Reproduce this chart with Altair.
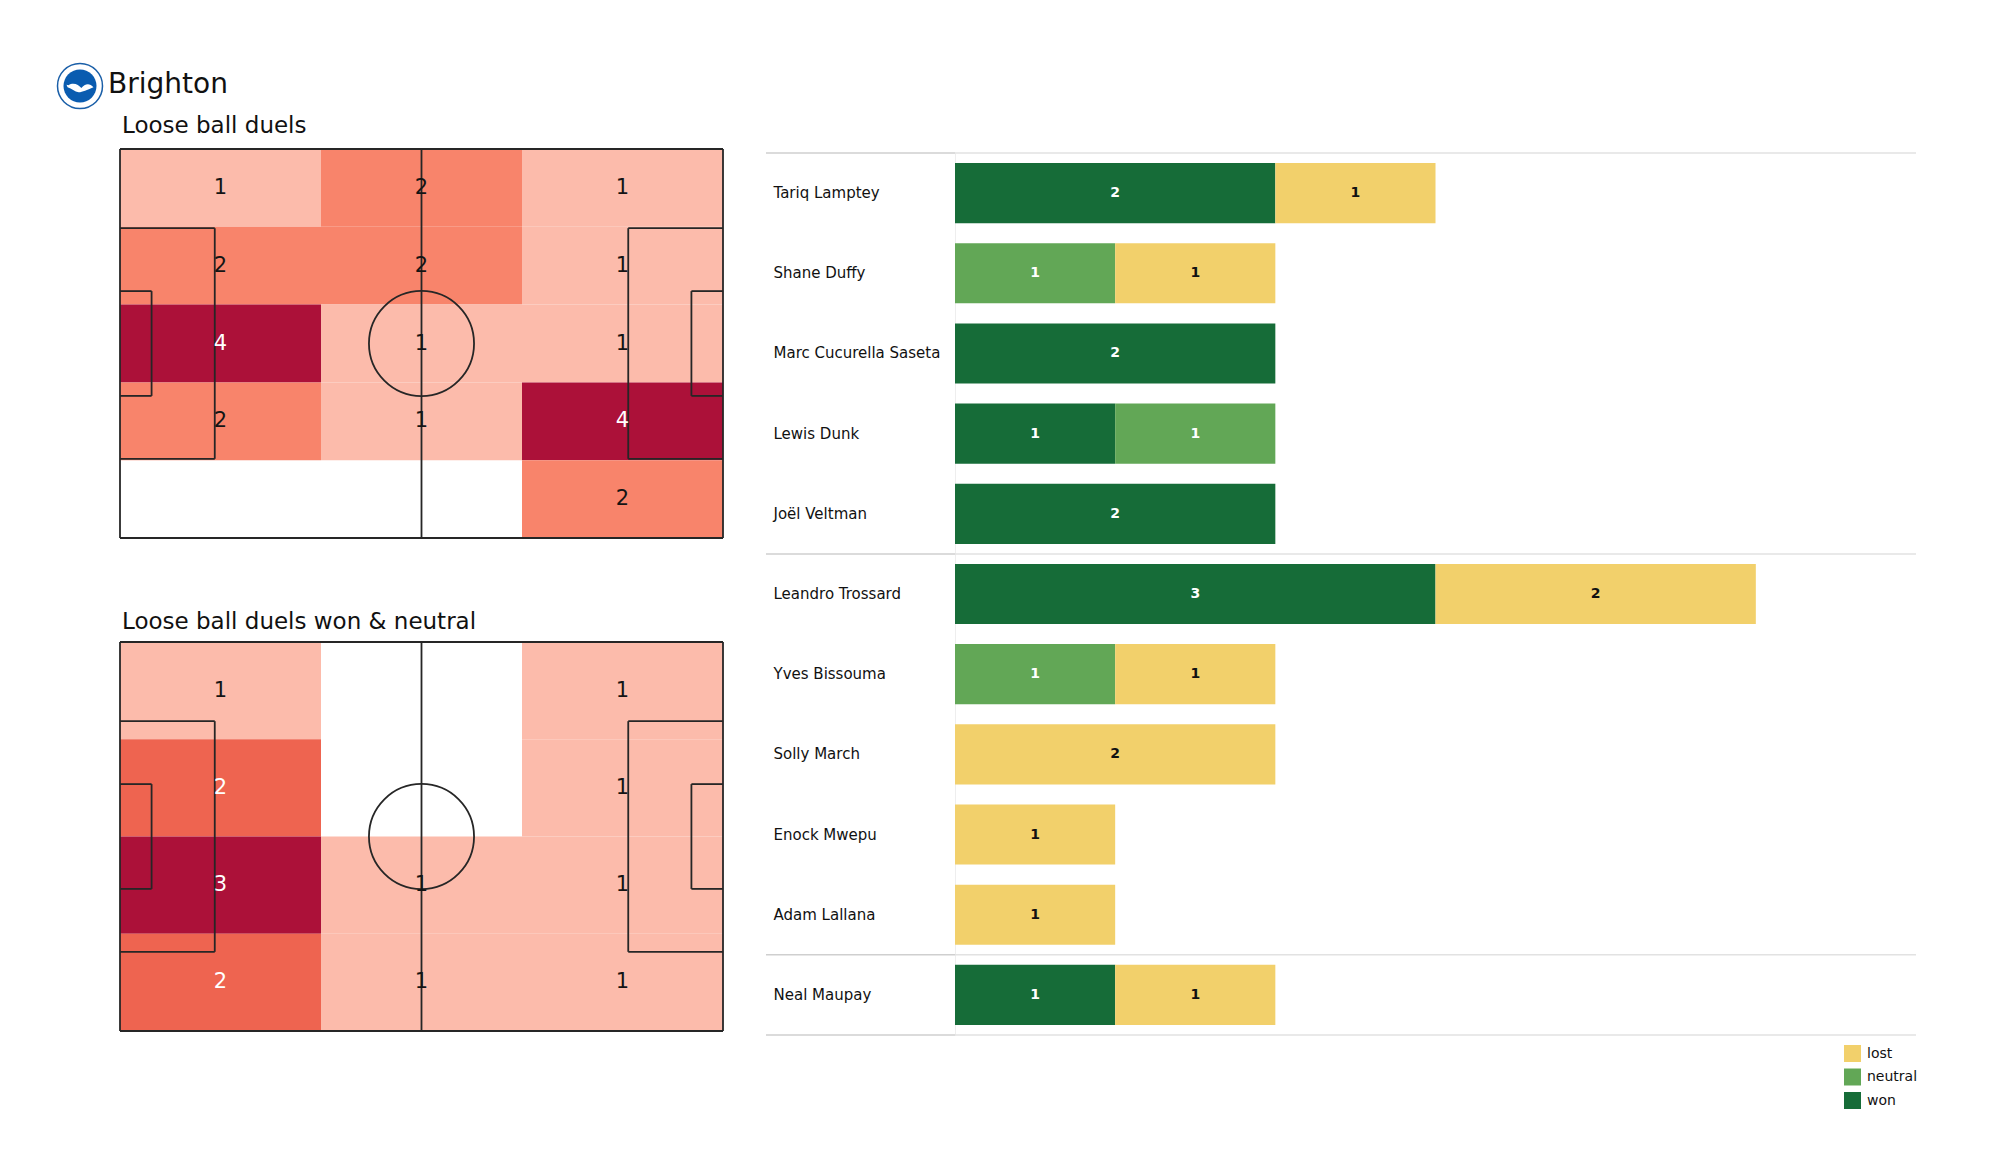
import altair as alt
import pandas as pd

# ---------------- data ----------------
TEAM = "Brighton"
TITLE_ALL = "Loose ball duels"
TITLE_WON = "Loose ball duels won & neutral"

# counts per zone (rows top->bottom, columns left->right)
HEAT_ALL = [
    [1, 2, 1],
    [2, 2, 1],
    [4, 1, 1],
    [2, 1, 4],
    [0, 0, 2],
]
HEAT_WON = [
    [1, 0, 1],
    [2, 0, 1],
    [3, 1, 1],
    [2, 1, 1],
]

PLAYERS = [
    "Tariq Lamptey", "Shane Duffy", "Marc Cucurella Saseta", "Lewis Dunk", "Joël Veltman",
    "Leandro Trossard", "Yves Bissouma", "Solly March", "Enock Mwepu", "Adam Lallana",
    "Neal Maupay",
]
GROUP_SIZES = [5, 5, 1]
WON = [2, 0, 2, 1, 2, 3, 0, 0, 0, 0, 1]
NEUTRAL = [0, 1, 0, 1, 0, 0, 1, 0, 0, 0, 0]
LOST = [1, 1, 0, 0, 0, 2, 1, 2, 1, 1, 1]

OUTCOMES = ["lost", "neutral", "won"]
OUTCOME_COLORS = ["#f2d06b", "#62a756", "#166c38"]
STACK_ORDER = {"won": 0, "neutral": 1, "lost": 2}
X_MAX = 6

HEAT_STOPS = [0, 1 / 3, 0.5, 1]
HEAT_COLORS = ["#fcbbab", "#f8846b", "#ee6450", "#ac1139"]
LINE_COLOR = "#262626"

# ---------------- layout (canvas px) ----------------
W, H = 1984, 1159
PITCH_X = [112, 715]
P1_Y = [141, 530]
P2_Y = [634, 1023]
BAR_X = [947, 1908]
BAR_Y = [145, 1027]
LABEL_X = 765
SEP_LEFT = 758
FONT = "DejaVu Sans"

# pitch markings (metres)
PL, PW = 105.0, 68.0


def pitch_lines_df():
    cy = PW / 2
    pb_d, pb_w = 16.5, 40.32
    sb_d, sb_w = 5.5, 18.32
    segs = [
        (0, 0, PL, 0), (0, PW, PL, PW), (0, 0, 0, PW), (PL, 0, PL, PW),
        (PL / 2, 0, PL / 2, PW),
    ]
    for d, w in ((pb_d, pb_w), (sb_d, sb_w)):
        a, b = cy - w / 2, cy + w / 2
        segs += [(0, a, d, a), (d, a, d, b), (0, b, d, b)]
        segs += [(PL, a, PL - d, a), (PL - d, a, PL - d, b), (PL, b, PL - d, b)]
    return pd.DataFrame(segs, columns=["x0", "y0", "x1", "y1"])


def heat_df(grid):
    nr, nc = len(grid), len(grid[0])
    vmax = max(max(r) for r in grid)
    rows = []
    for r, row in enumerate(grid):
        for c, v in enumerate(row):
            if v <= 0:
                continue
            rows.append(dict(
                x0=c * PL / nc, x1=(c + 1) * PL / nc,
                y0=r * PW / nr, y1=(r + 1) * PW / nr,
                cx=(c + 0.5) * PL / nc, cy=(r + 0.5) * PW / nr,
                value=v, t=(v - 1) / (vmax - 1),
            ))
    return pd.DataFrame(rows)


def pitch_layers(grid, yr):
    xs = alt.Scale(domain=[0, PL], range=PITCH_X, nice=False, zero=False)
    ys = alt.Scale(domain=[0, PW], range=yr, nice=False, zero=False)
    base = alt.Chart(heat_df(grid))
    cells = base.mark_rect().encode(
        x=alt.X("x0:Q", scale=xs, axis=None), x2="x1:Q",
        y=alt.Y("y0:Q", scale=ys, axis=None), y2="y1:Q",
        color=alt.Color("t:Q", scale=alt.Scale(domain=HEAT_STOPS, range=HEAT_COLORS), legend=None),
    )
    lines = alt.Chart(pitch_lines_df()).mark_rule(color=LINE_COLOR, strokeWidth=1.8).encode(
        x=alt.X("x0:Q", scale=xs, axis=None), x2="x1:Q",
        y=alt.Y("y0:Q", scale=ys, axis=None), y2="y1:Q",
    )
    px_per_m = (PITCH_X[1] - PITCH_X[0]) / PL
    circle = alt.Chart(pd.DataFrame([{"x": PL / 2, "y": PW / 2}])).mark_point(
        shape="circle", filled=False, size=(2 * 9.15 * px_per_m) ** 2,
        strokeWidth=1.8, color=LINE_COLOR, opacity=1,
    ).encode(
        x=alt.X("x:Q", scale=xs, axis=None), y=alt.Y("y:Q", scale=ys, axis=None),
    )
    labels = base.mark_text(fontSize=21, font=FONT).encode(
        x=alt.X("cx:Q", scale=xs, axis=None), y=alt.Y("cy:Q", scale=ys, axis=None),
        text="value:Q",
        color=alt.when(alt.datum.t >= 0.5).then(alt.value("#ffffff")).otherwise(alt.value("#141414")),
    )
    return [cells, lines, circle, labels]


# ---------------- header / titles ----------------
one = pd.DataFrame([{"k": 0}])
logo_ring = alt.Chart(one).mark_point(
    shape="circle", filled=True, size=45 ** 2, color="#ffffff", stroke="#1a5fa8",
    strokeWidth=1.5, opacity=1,
).encode(x=alt.value(72), y=alt.value(78))
logo_disc = alt.Chart(one).mark_point(
    shape="circle", filled=True, size=33 ** 2, color="#0a5cb0", opacity=1, strokeWidth=0,
).encode(x=alt.value(72), y=alt.value(78))
GULL = ("M1,-0.05 C0.7,-0.4 0.35,-0.3 0.1,0 C-0.1,-0.25 -0.5,-0.45 -0.85,-0.2 "
        "L-1,-0.25 L-0.92,-0.05 C-0.6,0.05 -0.4,0.28 -0.1,0.32 C0.2,0.32 0.5,0.15 1,-0.05 Z")
logo_gull = alt.Chart(one).mark_point(
    shape=GULL, filled=True, size=27 ** 2, color="#ffffff", opacity=1, strokeWidth=0,
).encode(x=alt.value(72), y=alt.value(80))

team_txt = alt.Chart(pd.DataFrame({"t": [TEAM]})).mark_text(
    align="left", baseline="alphabetic", fontSize=28, font=FONT, color="#111111",
).encode(x=alt.value(100), y=alt.value(85), text="t:N")
t1 = alt.Chart(pd.DataFrame({"t": [TITLE_ALL]})).mark_text(
    align="left", baseline="alphabetic", fontSize=23, font=FONT, color="#111111",
).encode(x=alt.value(114), y=alt.value(125), text="t:N")
t2 = alt.Chart(pd.DataFrame({"t": [TITLE_WON]})).mark_text(
    align="left", baseline="alphabetic", fontSize=23, font=FONT, color="#111111",
).encode(x=alt.value(114), y=alt.value(621), text="t:N")

# ---------------- bars ----------------
rows = []
for i, p in enumerate(PLAYERS):
    for o, vals in (("won", WON), ("neutral", NEUTRAL), ("lost", LOST)):
        if vals[i] > 0:
            rows.append(dict(player=p, outcome=o, count=vals[i], ord=STACK_ORDER[o]))
bars_df = pd.DataFrame(rows)

xb = alt.Scale(domain=[0, X_MAX], range=BAR_X, nice=False, zero=True)
yb = alt.Scale(domain=PLAYERS, range=BAR_Y, paddingInner=0.25, paddingOuter=0.125)

bounds = [0]
for g in GROUP_SIZES:
    bounds.append(bounds[-1] + g)
sep_df = pd.DataFrame({"b": bounds, "lo": 0, "hi": X_MAX})
ysep = alt.Scale(domain=[0, len(PLAYERS)], range=BAR_Y, nice=False, zero=False)
sep_right = alt.Chart(sep_df).mark_rule(color="#e2e2e2", strokeWidth=1.5).encode(
    x=alt.X("lo:Q", scale=xb, axis=None), x2="hi:Q",
    y=alt.Y("b:Q", scale=ysep, axis=None),
)
sep_left = alt.Chart(sep_df).mark_rule(color="#cfcfcf", strokeWidth=1.5).encode(
    x=alt.value(SEP_LEFT), x2=alt.value(BAR_X[0]),
    y=alt.Y("b:Q", scale=ysep, axis=None),
)

bars = alt.Chart(bars_df).mark_bar().encode(
    x=alt.X("count:Q", stack="zero", scale=xb, axis=None),
    y=alt.Y("player:N", scale=yb, axis=alt.Axis(
        title=None, orient="left", offset=-BAR_X[0], ticks=False, tickSize=0,
        labelAlign="left", labelPadding=BAR_X[0] - LABEL_X, labelFontSize=15,
        labelFont=FONT, labelColor="#111111", labelLimit=400, grid=False,
        domain=True, domainColor="#eeeeee", domainWidth=1, labelOverlap=False,
    )),
    color=alt.Color("outcome:N", scale=alt.Scale(domain=OUTCOMES, range=OUTCOME_COLORS),
                    legend=alt.Legend(
                        title=None, orient="none", legendX=1836, legendY=1037,
                        symbolType="square", symbolSize=289, symbolStrokeWidth=0,
                        labelFontSize=14, labelFont=FONT, labelColor="#111111",
                        rowPadding=6.5, padding=0, labelOffset=6, symbolOffset=0,
                    )),
    order=alt.Order("ord:Q", sort="ascending"),
)

bar_labels = alt.Chart(bars_df).transform_stack(
    stack="count", groupby=["player"], sort=[alt.SortField("ord", order="ascending")],
    as_=["s0", "s1"],
).transform_calculate(mid="(datum.s0 + datum.s1) / 2").mark_text(
    fontSize=14, fontWeight="bold", font=FONT,
).encode(
    x=alt.X("mid:Q", scale=xb, axis=None),
    y=alt.Y("player:N", scale=yb, axis=None),
    text="count:Q",
    color=alt.when(alt.datum.outcome == "lost").then(alt.value("#111111")).otherwise(alt.value("#ffffff")),
)

layers = (
    [logo_ring, logo_disc, logo_gull, team_txt, t1, t2]
    + pitch_layers(HEAT_ALL, P1_Y)
    + pitch_layers(HEAT_WON, P2_Y)
    + [sep_left, sep_right, bars, bar_labels]
)

chart = alt.layer(*layers).resolve_scale(
    x="independent", y="independent", color="independent",
).properties(
    width=W, height=H, padding=0, autosize=alt.AutoSizeParams(type="none"),
    background="white",
).configure(font=FONT).configure_view(stroke=None)

chart.save("out.html", embed_options={"renderer": "svg", "actions": False})
